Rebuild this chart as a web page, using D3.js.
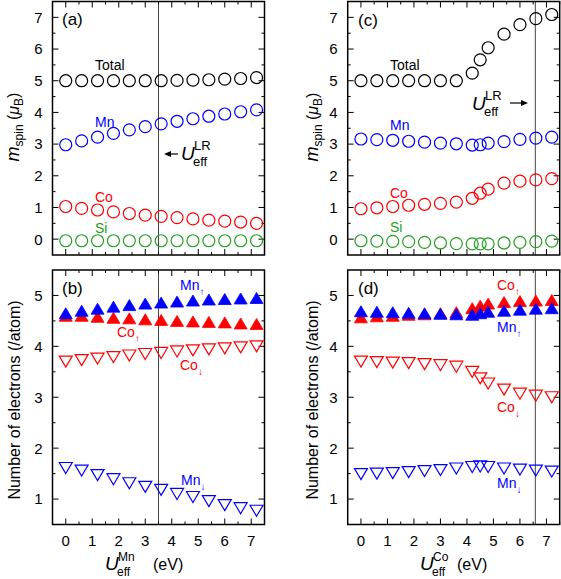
<!DOCTYPE html>
<html>
<head>
<meta charset="utf-8">
<style>
  body { margin: 0; background: #fff; }
  svg text { font-family: "Liberation Sans", Arial, sans-serif; }
</style>
</head>
<body>
<div id="chart"></div>
<script src="https://d3js.org/d3.v7.min.js"></script>
<script>
// U_eff values (eV)
const uMn = [0, 0.6, 1.2, 1.8, 2.4, 3.0, 3.6, 4.2, 4.8, 5.4, 6.0, 6.6, 7.2];
const uCo = [0, 0.6, 1.2, 1.8, 2.4, 3.0, 3.6, 4.2, 4.5, 4.8, 5.4, 6.0, 6.6, 7.2];

// (a) spin moments vs U_eff^Mn
const aTotal = [5.0, 5.0, 5.0, 5.0, 5.0, 5.0, 5.0, 5.01, 5.02, 5.03, 5.05, 5.07, 5.1];
const aMn    = [2.98, 3.1, 3.22, 3.34, 3.45, 3.55, 3.64, 3.72, 3.8, 3.88, 3.95, 4.02, 4.08];
const aCo    = [1.03, 0.97, 0.92, 0.86, 0.81, 0.76, 0.72, 0.68, 0.64, 0.6, 0.57, 0.54, 0.5];
const aSi    = [-0.05, -0.05, -0.05, -0.05, -0.05, -0.05, -0.05, -0.05, -0.05, -0.05, -0.05, -0.05, -0.05];

// (c) spin moments vs U_eff^Co
const cTotal = [5.0, 5.0, 5.0, 5.0, 5.0, 5.0, 5.0, 5.24, 5.66, 6.04, 6.47, 6.77, 6.96, 7.09];
const cMn    = [3.16, 3.14, 3.12, 3.09, 3.06, 3.03, 3.01, 2.97, 2.98, 3.03, 3.08, 3.15, 3.19, 3.22];
const cCo    = [0.96, 0.99, 1.03, 1.07, 1.1, 1.13, 1.17, 1.29, 1.45, 1.58, 1.77, 1.83, 1.87, 1.91];
const cSi    = [-0.05, -0.06, -0.07, -0.08, -0.1, -0.12, -0.14, -0.15, -0.15, -0.15, -0.12, -0.1, -0.08, -0.06];

// (b) electrons vs U_eff^Mn
const bMnUp = [4.65, 4.7, 4.74, 4.78, 4.81, 4.84, 4.86, 4.88, 4.9, 4.92, 4.93, 4.94, 4.95];
const bCoUp = [4.6, 4.6, 4.58, 4.56, 4.55, 4.53, 4.52, 4.5, 4.49, 4.48, 4.47, 4.45, 4.44];
const bCoDn = [3.7, 3.73, 3.76, 3.79, 3.82, 3.85, 3.87, 3.9, 3.92, 3.94, 3.96, 3.98, 4.0];
const bMnDn = [1.61, 1.56, 1.47, 1.39, 1.31, 1.24, 1.18, 1.1, 1.04, 0.96, 0.88, 0.82, 0.77];

// (d) electrons vs U_eff^Co
const dCoUp = [4.57, 4.59, 4.6, 4.62, 4.63, 4.65, 4.67, 4.75, 4.8, 4.84, 4.87, 4.89, 4.9, 4.91];
const dMnUp = [4.69, 4.68, 4.67, 4.66, 4.65, 4.64, 4.63, 4.62, 4.65, 4.68, 4.7, 4.72, 4.74, 4.75];
const dCoDn = [3.7, 3.69, 3.68, 3.67, 3.65, 3.63, 3.6, 3.5, 3.37, 3.27, 3.15, 3.07, 3.03, 3.0];
const dMnDn = [1.49, 1.5, 1.51, 1.53, 1.55, 1.57, 1.6, 1.63, 1.64, 1.63, 1.6, 1.58, 1.56, 1.54];

const xTicks = [0, 1, 2, 3, 4, 5, 6, 7];
const topTicks = [0, 1, 2, 3, 4, 5, 6, 7];
const botTicks = [1, 2, 3, 4, 5];

const RED = "#ff0000", BLUE = "#0000ff", GREEN = "#22a022";

const svg = d3.select("#chart").append("svg")
  .attr("width", 561).attr("height", 579);

const xDom = [-0.5, 7.5];
const leftX = d3.scaleLinear().domain(xDom).range([52.5, 264.5]);
const rightX = d3.scaleLinear().domain(xDom).range([347.7, 559.7]);
const topY = d3.scaleLinear().domain([-0.5, 7.5]).range([255, 1.5]);
const botY = d3.scaleLinear().domain([0.5, 5.5]).range([524.5, 270]);

function frame(x, y, yTicks, showX, vline) {
  const g = svg.append("g");
  const [x0, x1] = x.range(), [y0, y1] = y.range();
  // vertical U_eff^LR line
  g.append("line")
    .attr("x1", x(vline)).attr("x2", x(vline))
    .attr("y1", y1).attr("y2", y0)
    .attr("stroke", "#444").attr("stroke-width", 1);
  // ticks on all sides
  const xs = d3.range(0, 7.51, 0.5);
  xs.forEach(v => {
    const len = Number.isInteger(v) ? 6 : 3;
    g.append("line").attr("x1", x(v)).attr("x2", x(v)).attr("y1", y0).attr("y2", y0 - len).attr("stroke", "#000");
    g.append("line").attr("x1", x(v)).attr("x2", x(v)).attr("y1", y1).attr("y2", y1 + len).attr("stroke", "#000");
  });
  const [d0, d1] = y.domain();
  const ys = d3.range(Math.ceil(d0 * 2) / 2, d1 + 0.01, 0.5).filter(v => v > d0 && v < d1);
  ys.forEach(v => {
    const len = Number.isInteger(v) ? 6 : 3;
    g.append("line").attr("x1", x0).attr("x2", x0 + len).attr("y1", y(v)).attr("y2", y(v)).attr("stroke", "#000");
    g.append("line").attr("x1", x1).attr("x2", x1 - len).attr("y1", y(v)).attr("y2", y(v)).attr("stroke", "#000");
  });
  g.append("rect")
    .attr("x", x0).attr("y", y1).attr("width", x1 - x0).attr("height", y0 - y1)
    .attr("fill", "none").attr("stroke", "#000").attr("stroke-width", 1.5);
  g.selectAll(null).data(yTicks).join("text")
    .attr("x", x0 - 10).attr("y", d => y(d)).attr("dy", "0.36em")
    .attr("text-anchor", "end").attr("font-size", 15).text(d => d);
  if (showX) {
    g.selectAll(null).data(xTicks).join("text")
      .attr("x", d => x(d)).attr("y", 546)
      .attr("text-anchor", "middle").attr("font-size", 15).text(d => d);
  }
}

function circles(x, y, xs, vals, color) {
  svg.append("g").selectAll("circle").data(d3.zip(xs, vals)).join("circle")
    .attr("cx", d => x(d[0])).attr("cy", d => y(d[1])).attr("r", 6)
    .attr("fill", "none").attr("stroke", color).attr("stroke-width", 1.2);
}

function triangles(x, y, xs, vals, color, up) {
  const p = up ? "M0,-5.5L6.5,5.5L-6.5,5.5Z" : "M0,5.5L6.5,-5.5L-6.5,-5.5Z";
  svg.append("g").selectAll("path").data(d3.zip(xs, vals)).join("path")
    .attr("d", p)
    .attr("transform", d => `translate(${x(d[0])},${y(d[1])})`)
    .attr("fill", up ? color : "none")
    .attr("stroke", color).attr("stroke-width", up ? 0.8 : 1.2);
}

function label(x, y, txt, color, size) {
  svg.append("text").attr("x", x).attr("y", y).attr("fill", color || "#000")
    .attr("font-size", size || 14).text(txt);
}

function spinLabel(x, y, name, arrow, color) {
  const t = svg.append("text").attr("x", x).attr("y", y).attr("fill", color).attr("font-size", 14);
  t.append("tspan").text(name);
  t.append("tspan").attr("font-size", 10).attr("dy", 5).text(arrow);
}

function ueffLR(x, y) {
  svg.append("text").attr("x", x).attr("y", y).attr("font-size", 19).attr("font-style", "italic").text("U");
  svg.append("text").attr("x", x + 13).attr("y", y - 10).attr("font-size", 13).text("LR");
  svg.append("text").attr("x", x + 12).attr("y", y + 6).attr("font-size", 13).text("eff");
}

function arrow(x1, x2, y) {
  const dir = x2 > x1 ? 1 : -1;
  svg.append("line").attr("x1", x1).attr("x2", x2 - dir * 4).attr("y1", y).attr("y2", y)
    .attr("stroke", "#000").attr("stroke-width", 1.2);
  svg.append("path")
    .attr("d", `M${x2},${y}L${x2 - dir * 7},${y - 3}L${x2 - dir * 7},${y + 3}Z`).attr("fill", "#000");
}

function xTitle(x, sup, supGap) {
  svg.append("text").attr("x", x).attr("y", 570).attr("font-size", 19).attr("font-style", "italic").text("U");
  svg.append("text").attr("x", x + 12).attr("y", 576).attr("font-size", 12).text("eff");
  svg.append("text").attr("x", x + 13).attr("y", 561).attr("font-size", 12).text(sup);
  svg.append("text").attr("x", x + supGap).attr("y", 570).attr("font-size", 16).text("(eV)");
}

function yTitleSpin(x, y) {
  const t = svg.append("text").attr("transform", `translate(${x},${y}) rotate(-90)`)
    .attr("text-anchor", "middle").attr("font-size", 16);
  t.append("tspan").attr("font-style", "italic").attr("font-size", 18).text("m");
  t.append("tspan").attr("font-size", 12).attr("dy", 4).text("spin");
  t.append("tspan").attr("dy", -4).text(" (");
  t.append("tspan").attr("font-style", "italic").text("\u03bc");
  t.append("tspan").attr("font-size", 12).attr("dy", 4).text("B");
  t.append("tspan").attr("dy", -4).text(")");
}

function yTitleElec(x, y) {
  svg.append("text").attr("transform", `translate(${x},${y}) rotate(-90)`)
    .attr("text-anchor", "middle").attr("font-size", 16).text("Number of electrons (/atom)");
}

// panel (a)
frame(leftX, topY, topTicks, false, 3.5);
circles(leftX, topY, uMn, aTotal, "#000");
circles(leftX, topY, uMn, aMn, BLUE);
circles(leftX, topY, uMn, aCo, RED);
circles(leftX, topY, uMn, aSi, GREEN);
label(62, 25, "(a)", "#000", 17);
label(95, 70, "Total");
label(95, 127, "Mn", BLUE);
label(95, 202, "Co", RED);
label(95, 233, "Si", GREEN);
arrow(178, 164, 154);
ueffLR(181, 160);

// panel (c)
frame(rightX, topY, topTicks, false, 6.58);
circles(rightX, topY, uCo, cTotal, "#000");
circles(rightX, topY, uCo, cMn, BLUE);
circles(rightX, topY, uCo, cCo, RED);
circles(rightX, topY, uCo, cSi, GREEN);
label(358, 26, "(c)", "#000", 17);
label(390, 70, "Total");
label(390, 130, "Mn", BLUE);
label(390, 198, "Co", RED);
label(390, 232, "Si", GREEN);
ueffLR(472, 110);
arrow(510, 528, 103);

// panel (b)
frame(leftX, botY, botTicks, true, 3.5);
triangles(leftX, botY, uMn, bCoUp, RED, true);
triangles(leftX, botY, uMn, bMnUp, BLUE, true);
triangles(leftX, botY, uMn, bCoDn, RED, false);
triangles(leftX, botY, uMn, bMnDn, BLUE, false);
label(62, 294, "(b)", "#000", 17);
spinLabel(180, 290, "Mn", "\u2191", BLUE);
spinLabel(117, 337, "Co", "\u2191", RED);
spinLabel(180, 370, "Co", "\u2193", RED);
spinLabel(181, 485, "Mn", "\u2193", BLUE);

// panel (d)
frame(rightX, botY, botTicks, true, 6.58);
triangles(rightX, botY, uCo, dCoUp, RED, true);
triangles(rightX, botY, uCo, dMnUp, BLUE, true);
triangles(rightX, botY, uCo, dCoDn, RED, false);
triangles(rightX, botY, uCo, dMnDn, BLUE, false);
label(358, 294, "(d)", "#000", 17);
spinLabel(497, 290, "Co", "\u2191", RED);
spinLabel(497, 332, "Mn", "\u2191", BLUE);
spinLabel(497, 412, "Co", "\u2193", RED);
spinLabel(497, 488, "Mn", "\u2193", BLUE);

// axis titles
yTitleSpin(19, 127);
yTitleSpin(318, 127);
yTitleElec(20, 400);
yTitleElec(318, 400);
xTitle(105, "Mn", 48);
xTitle(420, "Co", 37);
</script>
</body>
</html>
